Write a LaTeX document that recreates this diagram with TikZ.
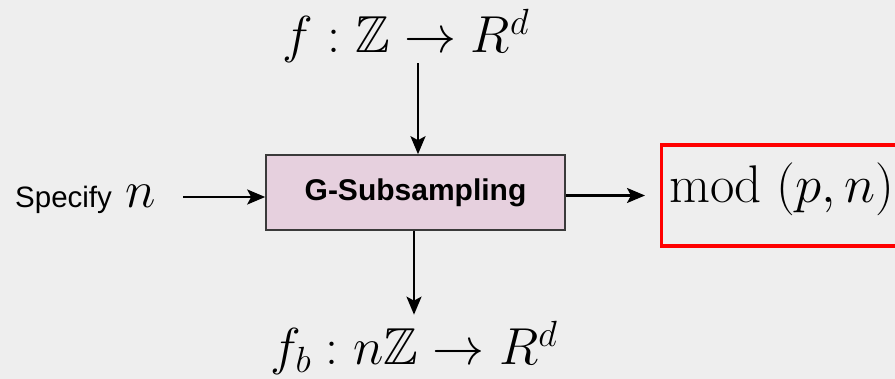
\RequirePackage{fix-cm}
\documentclass[tikz,border=0pt]{standalone}
\usepackage{amssymb}
\usepackage{fontspec}
\setsansfont{Liberation Sans}
\usetikzlibrary{arrows.meta,calc}
\definecolor{bgc}{HTML}{EEEEEE}
\definecolor{boxfill}{HTML}{E6D0DE}
\definecolor{boxline}{HTML}{3A3A3A}
\tikzset{
  arr/.style={line width=2.3pt, -{Stealth[length=18pt,width=15pt,inset=4pt]}},
  mathlbl/.style={inner sep=0pt, font=\fontsize{52}{60}\selectfont},
  procbox/.style={draw=boxline, line width=1.6pt, fill=boxfill, minimum width=299pt, minimum height=75pt, font=\fontsize{30}{36}\selectfont\sffamily\bfseries},
  redbox/.style={draw=red, line width=3.2pt, minimum height=101pt, inner xsep=8pt, text width=240pt, align=left, text height=28pt, text depth=13pt, font=\fontsize{53}{60}\selectfont}
}
\begin{document}
\begin{tikzpicture}[x=1pt,y=-1pt]
\fill[bgc] (0,0) rectangle (895,379);
\useasboundingbox (0,0) rectangle (895,379);
\clip (0,0) rectangle (895,379);
\node[procbox] (g) at (415.5,192.5) {G-Subsampling};
\node[mathlbl, anchor=base] (top) at (406,53) {$f:\mathbb{Z}\rightarrow R^d$};
\node[mathlbl, anchor=base] (bot) at (414,365) {$f_b:n\mathbb{Z}\rightarrow R^d$};
\node[inner sep=0pt, anchor=base west, font=\fontsize{29.5}{34}\selectfont\sffamily] (spec) at (15,208) {Specify\hspace{0.45em}{\fontsize{52}{60}\selectfont$n$}};
\node[redbox, anchor=west] (mod) at (660,195.5) {$\mathrm{mod}\;(p,n)$};
\coordinate (sa) at (183,197);
\draw[arr] ([xshift=2.5pt]g.north |- top.south) -- ([xshift=2.5pt]g.north);
\draw[arr, shorten >=6pt] ([xshift=-1.5pt]g.south) -- ([xshift=-1.5pt]g.south |- bot.north);
\draw[arr] (sa) -- (sa -| g.west);
\draw[arr, shorten >=15pt] ([yshift=-3pt]g.east) -- (mod.west);
\end{tikzpicture}
\end{document}
